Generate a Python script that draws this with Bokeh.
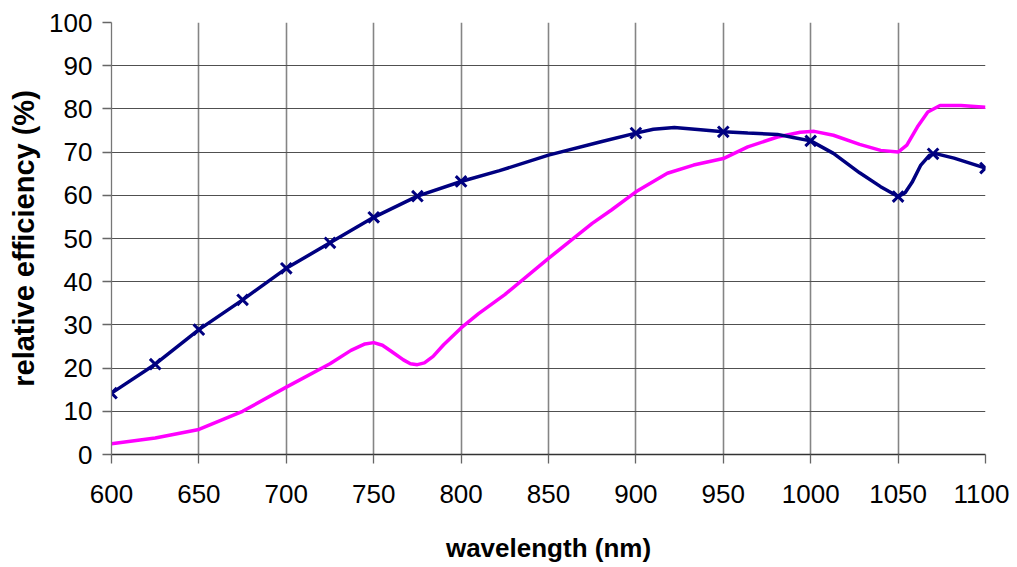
from bokeh.plotting import figure
from bokeh.embed import file_html
from bokeh.resources import INLINE
from bokeh.models import Range1d, FixedTicker

# Blue series: measured points (markers)
blue_marker_x = [600, 625, 650, 675, 700, 725, 750, 775, 800, 900, 950, 1000, 1050, 1070, 1100]
blue_marker_y = [14.2, 20.9, 28.9, 35.8, 43.1, 49.0, 54.9, 59.8, 63.2, 74.4, 74.7, 72.6, 59.7, 69.6, 66.3]

# Blue series: smoothed line
blue_line_x = [600, 625, 650, 675, 700, 725, 750, 775, 800, 822, 850, 880, 900, 910, 922, 937, 950,
               964, 981, 990, 1000, 1013, 1028, 1040, 1050, 1054, 1058, 1063, 1068, 1072, 1082, 1100]
blue_line_y = [14.2, 20.9, 28.9, 35.8, 43.1, 49.0, 54.9, 59.8, 63.2, 65.7, 69.3, 72.4, 74.4, 75.3, 75.7,
               75.2, 74.7, 74.4, 74.1, 73.4, 72.6, 69.7, 65.2, 62.0, 59.7, 60.6, 63.0, 67.0, 69.3, 69.6,
               68.6, 66.3]

# Magenta series
mag_x = [600, 625, 650, 675, 700, 725, 737, 745, 750, 755, 760, 767, 771, 775, 779, 784, 790, 800, 810,
         825, 850, 875, 886, 900, 918, 933, 950, 964, 981, 994, 1002, 1013, 1028, 1040, 1050, 1055, 1061,
         1067, 1074, 1086, 1100]
mag_y = [2.5, 3.8, 5.8, 10.0, 15.6, 21.0, 24.1, 25.6, 25.9, 25.3, 23.9, 21.9, 21.0, 20.8, 21.2, 22.7,
         25.4, 29.3, 32.6, 37.0, 45.4, 53.5, 56.6, 60.8, 65.1, 67.0, 68.5, 71.2, 73.5, 74.6, 74.8, 73.9,
         71.8, 70.4, 70.0, 71.6, 75.8, 79.3, 80.8, 80.8, 80.4]

x_ticks = [600, 650, 700, 750, 800, 850, 900, 950, 1000, 1050, 1100]
y_ticks = [0, 10, 20, 30, 40, 50, 60, 70, 80, 90, 100]

FONT = "Liberation Sans"

p = figure(width=1009, height=565, output_backend="svg", toolbar_location=None,
           x_range=Range1d(600, 1100), y_range=Range1d(0, 100),
           min_border_left=111, min_border_right=24, min_border_top=22, min_border_bottom=110)
p.outline_line_color = None
p.background_fill_color = "white"
p.border_fill_color = "white"

p.xaxis.ticker = FixedTicker(ticks=x_ticks)
p.yaxis.ticker = FixedTicker(ticks=y_ticks)
p.xaxis.axis_label = "wavelength (nm)"
p.yaxis.axis_label = "relative efficiency (%)"

for ax in (p.xaxis, p.yaxis):
    ax.major_label_text_font = FONT
    ax.major_label_text_font_size = "26px"
    ax.major_label_text_color = "black"
    ax.axis_label_text_font = FONT
    ax.axis_label_text_font_style = "bold"
    ax.axis_label_text_color = "black"
    ax.major_tick_out = 9
    ax.major_tick_in = 0
    ax.minor_tick_line_color = None
    ax.major_tick_line_color = "#666666"
    ax.axis_line_color = "#777777"
    ax.major_tick_line_width = 1.3
    ax.axis_line_width = 1.3

p.xaxis.axis_label_text_font_size = "26px"
p.yaxis.axis_label_text_font_size = "29px"
p.xaxis.major_label_standoff = 21
p.xaxis.axis_label_standoff = 27
p.yaxis.major_label_standoff = 10
p.yaxis.axis_label_standoff = 6
p.xaxis.axis_line_color = "#333333"

p.xgrid.grid_line_color = "#858585"
p.xgrid.grid_line_width = 1.6
p.ygrid.grid_line_color = "#505050"
p.ygrid.grid_line_width = 1.2

p.line(mag_x, mag_y, line_color="#FF00FF", line_width=3.5)
p.line(blue_line_x, blue_line_y, line_color="#000080", line_width=3.5)
p.scatter(blue_marker_x, blue_marker_y, marker="x", size=15, line_color="#000080", line_width=3)

open("out.html", "w").write(file_html(p, INLINE))
